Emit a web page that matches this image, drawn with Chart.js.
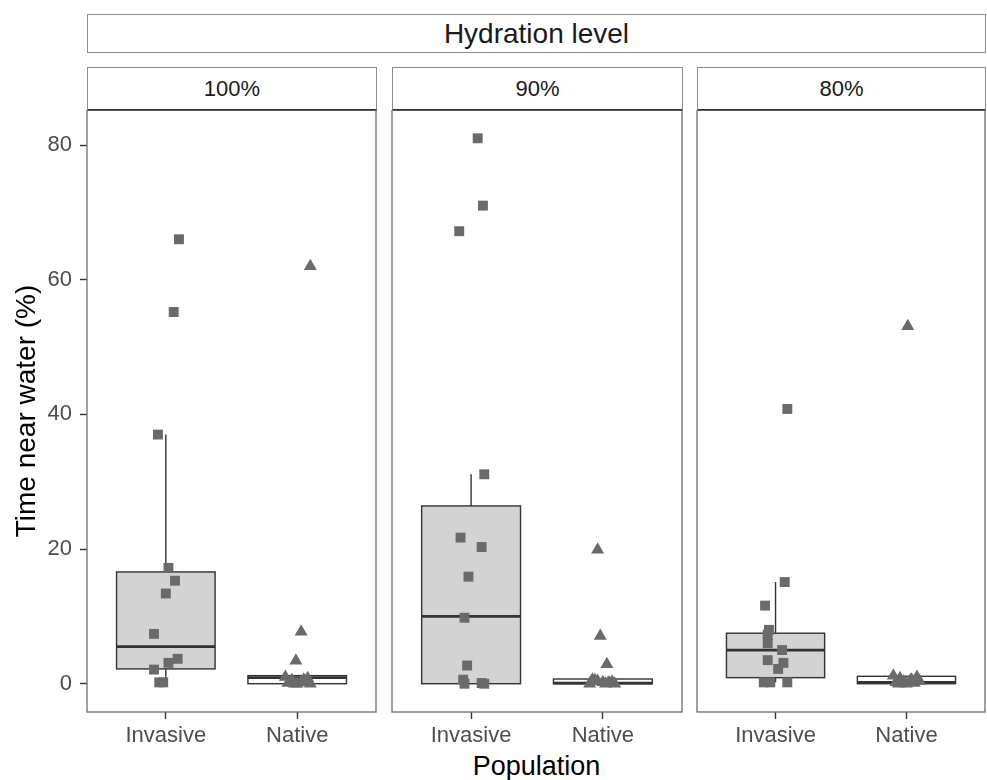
<!DOCTYPE html>
<html>
<head>
<meta charset="utf-8">
<script src="https://cdn.jsdelivr.net/npm/chart.js@4"></script>
<style>
  body { margin: 0; background: #fff; }
  #wrap { position: relative; width: 987px; height: 780px; overflow: hidden; font-family: "Liberation Sans", Arial, sans-serif; }
  canvas { position: absolute; }
  .strip { position: absolute; box-sizing: border-box; border: 1px solid #8c8c8c; background: #fff; text-align: center; color: #1a1a1a; }
  .facet { border-bottom: 2px solid #333; font-size: 22px; line-height: 41px; top: 67px; height: 44px; }
  #hyd { left: 87px; top: 14px; width: 899px; height: 39px; font-size: 28px; line-height: 37px; }
  #xtitle { position: absolute; left: 87px; width: 899px; top: 751px; text-align: center; font-size: 27px; line-height: 30px; color: #000; }
</style>
</head>
<body>
<div id="wrap">
  <div id="hyd" class="strip">Hydration level</div>
  <div id="xtitle">Population</div>
</div>
<script>
const $ = (id) => document.getElementById(id);

// --- Data ---

const groups = ['Invasive', 'Native'];
const levels = ['100%', '90%', '80%'];
const yTicks = [0, 20, 40, 60, 80];

// points, one list per panel and population
const invasive100 = [66, 55.2, 37, 17.2, 15.3, 13.4, 7.4, 3.7, 3.1, 2.1, 0.2, 0.2];
const invasive100Jitter = [0.1, 0.06, -0.06, 0.02, 0.07, 0, -0.09, 0.09, 0.02, -0.09, -0.02, -0.05];
const native100 = [62, 7.7, 3.4, 1.0, 0.8, 0.5, 0.3, 0.2, 0.1, 0, 0, 0, 0.6];
const native100Jitter = [0.1, 0.03, -0.01, -0.09, 0.08, -0.04, 0.03, 0.06, -0.07, 0, -0.02, 0.1, 0.05];

const invasive90 = [81, 71, 67.2, 31.1, 21.7, 20.3, 15.9, 9.8, 2.7, 0.6, 0, 0.1, 0];
const invasive90Jitter = [0.05, 0.09, -0.09, 0.1, -0.08, 0.08, -0.02, -0.05, -0.03, -0.06, -0.05, 0.08, 0.1];
const native90 = [19.9, 7.1, 2.9, 0.6, 0.4, 0.2, 0.1, 0, 0, 0, 0.3, 0.5, 0.1];
const native90Jitter = [-0.04, -0.02, 0.03, -0.08, -0.04, 0, 0.05, 0.09, -0.1, 0.02, 0.07, -0.06, 0.04];

const invasive80 = [40.8, 15.1, 11.6, 8.0, 7.3, 6.0, 5.0, 3.5, 3.1, 2.2, 0.2, 0.2, 0.2];
const invasive80Jitter = [0.09, 0.07, -0.08, -0.05, -0.06, -0.06, 0.05, -0.06, 0.06, 0.02, -0.09, -0.04, 0.09];
const native80 = [53.1, 1.2, 1.0, 0.8, 0.6, 0.4, 0.3, 0.2, 0.1, 0, 0, 0.5];
const native80Jitter = [0.01, -0.1, 0.08, -0.05, 0.04, 0.1, -0.02, -0.08, 0.06, 0, -0.06, 0.03];

// box stats: [lower whisker, q1, median, q3, upper whisker]
const box100 = [[0.2, 2.2, 5.5, 16.6, 37], [0, 0, 0.9, 1.2, 1.2]];
const box90 = [[0, 0, 10, 26.4, 31.1], [0, 0, 0.1, 0.7, 0.7]];
const box80 = [[0.2, 0.9, 5.0, 7.5, 15.1], [0, 0, 0.2, 1.1, 1.1]];

const panels = [
  { label: levels[0], inv: invasive100, invJ: invasive100Jitter, nat: native100, natJ: native100Jitter, box: box100 },
  { label: levels[1], inv: invasive90, invJ: invasive90Jitter, nat: native90, natJ: native90Jitter, box: box90 },
  { label: levels[2], inv: invasive80, invJ: invasive80Jitter, nat: native80, natJ: native80Jitter, box: box80 },
];

// --- Layout ---

const FONT = '"Liberation Sans", Arial, sans-serif';
const TOP = 110;
const CANVAS_H = 670;
const X_AXIS_H = 68;
const Y_AXIS_W = 87;
const frames = [
  { left: 0, width: 380, pad: { left: 0, right: 4 }, yAxis: true },
  { left: 390, width: 294, pad: { left: 2, right: 2 }, yAxis: false },
  { left: 695, width: 292, pad: { left: 2, right: 2 }, yAxis: false },
];
const boxFills = ['#d3d3d3', '#ffffff'];
const pointColor = '#6a6a6a';

const boxPlugin = {
  id: 'boxes',
  beforeDatasetsDraw(chart, args, opts) {
    const { ctx, scales: { x, y } } = chart;
    ctx.save();
    opts.stats.forEach((s, i) => {
      const cx = x.getPixelForValue(i + 1);
      const half = (x.getPixelForValue(i + 1.375) - x.getPixelForValue(i + 0.625)) / 2;
      ctx.strokeStyle = '#333';
      ctx.lineWidth = 1.4;
      ctx.beginPath();
      ctx.moveTo(cx, y.getPixelForValue(s[0]));
      ctx.lineTo(cx, y.getPixelForValue(s[1]));
      ctx.moveTo(cx, y.getPixelForValue(s[3]));
      ctx.lineTo(cx, y.getPixelForValue(s[4]));
      ctx.stroke();
      const top = y.getPixelForValue(s[3]);
      const bot = y.getPixelForValue(s[1]);
      ctx.fillStyle = boxFills[i];
      ctx.fillRect(cx - half, top, half * 2, bot - top);
      ctx.strokeRect(cx - half, top, half * 2, bot - top);
      ctx.lineWidth = 2.8;
      ctx.beginPath();
      const m = y.getPixelForValue(s[2]);
      ctx.moveTo(cx - half, m);
      ctx.lineTo(cx + half, m);
      ctx.stroke();
    });
    ctx.restore();
  },
};

const borderPlugin = {
  id: 'panelBorder',
  afterDraw(chart) {
    const { ctx, chartArea: a } = chart;
    ctx.save();
    ctx.strokeStyle = '#6e6e6e';
    ctx.lineWidth = 1.3;
    ctx.strokeRect(a.left, a.top, a.right - a.left, a.bottom - a.top);
    ctx.restore();
  },
};

function toPoints(values, jitter, pos) {
  return values.map((v, i) => ({ x: pos + jitter[i], y: v }));
}

panels.forEach((p, k) => {
  const f = frames[k];
  const plotLeft = f.left + f.pad.left + (f.yAxis ? Y_AXIS_W : 0);
  const plotRight = f.left + f.width - f.pad.right;

  const strip = document.createElement('div');
  strip.className = 'strip facet';
  strip.textContent = p.label;
  strip.style.left = plotLeft + 'px';
  strip.style.width = (plotRight - plotLeft + 1) + 'px';
  $('wrap').appendChild(strip);

  const canvas = document.createElement('canvas');
  canvas.style.left = f.left + 'px';
  canvas.style.top = TOP + 'px';
  canvas.style.width = f.width + 'px';
  canvas.style.height = CANVAS_H + 'px';
  canvas.width = f.width;
  canvas.height = CANVAS_H;
  $('wrap').appendChild(canvas);

  new Chart(canvas, {
    type: 'scatter',
    data: {
      datasets: [
        {
          data: toPoints(p.inv, p.invJ, 1),
          pointStyle: 'rect',
          radius: 7,
          backgroundColor: pointColor,
          borderWidth: 0,
        },
        {
          data: toPoints(p.nat, p.natJ, 2),
          pointStyle: 'triangle',
          radius: 7.5,
          backgroundColor: pointColor,
          borderWidth: 0,
        },
      ],
    },
    options: {
      responsive: false,
      animation: false,
      layout: { autoPadding: false, padding: { top: 0, bottom: 0, left: f.pad.left, right: f.pad.right } },
      plugins: {
        legend: { display: false },
        tooltip: { enabled: false },
        boxes: { stats: p.box },
      },
      scales: {
        x: {
          type: 'linear',
          min: 0.4,
          max: 2.6,
          afterBuildTicks: (s) => (s.ticks = [{ value: 1 }, { value: 2 }]),
          afterFit: (s) => {
            s.height = X_AXIS_H;
            s.paddingLeft = s.paddingRight = 0;
          },
          border: { display: false },
          grid: { drawOnChartArea: false, tickLength: 7, tickColor: '#333', tickWidth: 1.4 },
          ticks: {
            callback: (v) => groups[v - 1],
            color: '#4d4d4d',
            font: { family: FONT, size: 22 },
            padding: 4,
            maxRotation: 0,
          },
        },
        y: {
          display: f.yAxis,
          min: -4.2,
          max: 85.2,
          afterBuildTicks: (s) => (s.ticks = yTicks.map((v) => ({ value: v }))),
          afterFit: (s) => {
            if (f.yAxis) s.width = Y_AXIS_W;
            s.paddingTop = s.paddingBottom = 0;
          },
          border: { display: false },
          grid: { drawOnChartArea: false, tickLength: 7, tickColor: '#333', tickWidth: 1.4 },
          ticks: { color: '#4d4d4d', font: { family: FONT, size: 22 }, padding: 8 },
          title: {
            display: true,
            text: 'Time near water (%)',
            color: '#000',
            font: { family: FONT, size: 28 },
            padding: { top: 10, bottom: 0 },
          },
        },
      },
    },
    plugins: [boxPlugin, borderPlugin],
  });
});
</script>
</body>
</html>
